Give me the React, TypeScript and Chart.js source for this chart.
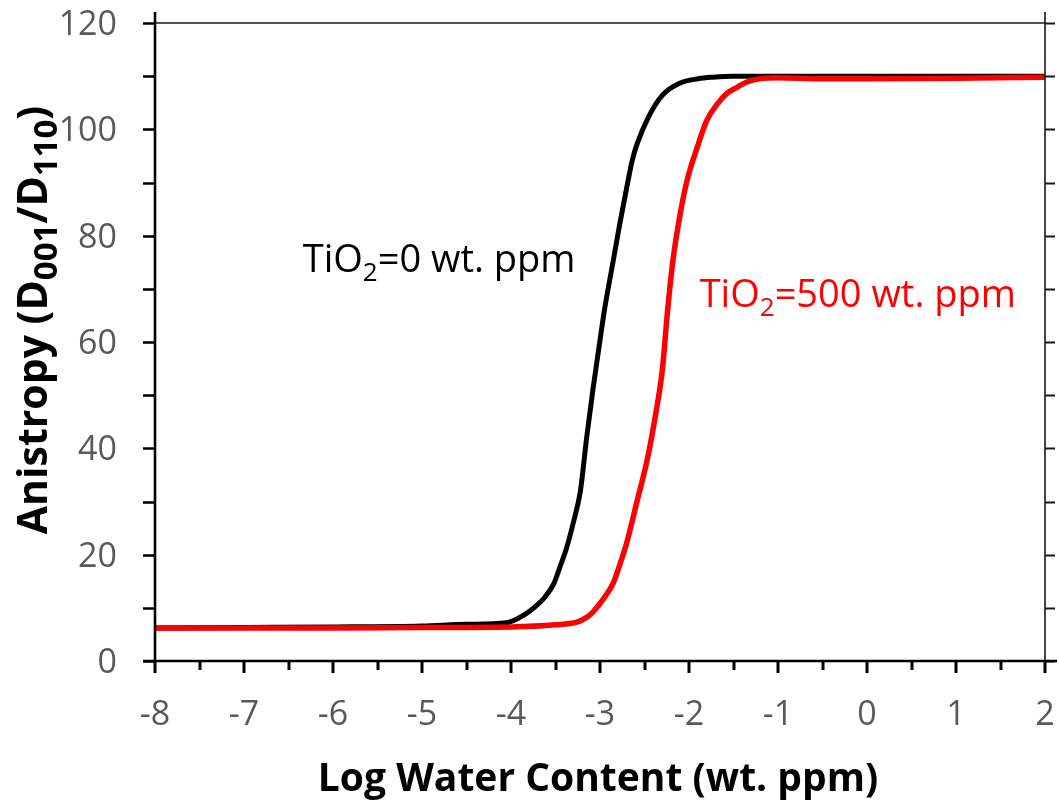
import React, { useEffect, useRef } from 'react';
import { Chart, registerables } from 'chart.js';
Chart.register(...registerables);

// Series: TiO2 = 0 wt. ppm (black)
const blackX = [-8, -7, -6, -5, -4.5, -4.05, -3.85, -3.73, -3.62, -3.52, -3.45, -3.38, -3.30, -3.22, -3.15, -3.08, -3.02, -2.95, -2.85, -2.78, -2.70, -2.64, -2.58, -2.45, -2.30, -2.10, -1.90, -1.73, -1.5, -1, 0, 1, 2];
const blackY = [6.2, 6.3, 6.4, 6.6, 6.9, 7.2, 8.7, 10.2, 12.0, 14.5, 17.7, 21, 26, 32, 42, 51, 58, 66, 75.4, 82, 89, 94, 97.4, 102.5, 106.4, 108.7, 109.5, 109.8, 110, 110, 110, 110, 110];

// Series: TiO2 = 500 wt. ppm (red)
const redX = [-8, -7, -6, -5, -4, -3.5, -3.26, -3.15, -3.08, -2.97, -2.85, -2.78, -2.70, -2.58, -2.47, -2.38, -2.30, -2.24, -2.18, -2.10, -2.02, -1.90, -1.80, -1.68, -1.57, -1.45, -1.35, -1.17, -1, -0.5, 0, 1, 2];
const redY = [6.2, 6.2, 6.2, 6.3, 6.4, 6.8, 7.3, 8.2, 9.2, 11.5, 14.7, 18, 22.2, 30.3, 37.8, 45.9, 54.7, 66, 75.4, 84, 90.5, 97, 101.7, 104.8, 106.8, 108, 108.9, 109.6, 109.7, 109.5, 109.5, 109.6, 109.8];

const xTickValues = [-8, -7, -6, -5, -4, -3, -2, -1, 0, 1, 2];
const yTickValues = [0, 20, 40, 60, 80, 100, 120];

const xTitle = [{ t: 'Log Water Content (wt. ppm)' }];
const yTitle = [{ t: 'Anistropy (D' }, { t: '001', sub: true }, { t: '/D' }, { t: '110', sub: true }, { t: ')' }];

const blackLabel = [{ t: 'TiO' }, { t: '2', sub: true }, { t: '=0 wt. ppm' }];
const redLabel = [{ t: 'TiO' }, { t: '2', sub: true }, { t: '=500 wt. ppm' }];
// label anchor positions (data coords: x, y of left baseline)
const blackLabelAt = [-6.34, 73.2];
const redLabelAt = [-1.88, 66.6];

const FONT = '"Open Sans", "Liberation Sans", sans-serif';

type Part = { t: string; sub?: boolean };

function drawRich(ctx: CanvasRenderingContext2D, parts: Part[], x: number, y: number, size: number, bold: boolean, color: string, align: 'left' | 'center', subScale = 0.68) {
  const fontFor = (p: Part) => `${bold ? 'bold ' : ''}${p.sub ? Math.round(size * subScale) : size}px ${FONT}`;
  let total = 0;
  const widths = parts.map((p) => {
    ctx.font = fontFor(p);
    const w = ctx.measureText(p.t).width;
    total += w;
    return w;
  });
  let cx = align === 'center' ? x - total / 2 : x;
  ctx.fillStyle = color;
  ctx.textBaseline = 'alphabetic';
  ctx.textAlign = 'left';
  parts.forEach((p, i) => {
    ctx.font = fontFor(p);
    ctx.fillText(p.t, cx, p.sub ? y + size * 0.24 : y);
    cx += widths[i];
  });
}

const framePlugin = {
  id: 'frame',
  afterDraw(chart: any) {
    const { ctx, chartArea, scales } = chart;
    const { left, right, top, bottom } = chartArea;
    const xs = scales.x;
    const ys = scales.y;
    ctx.save();
    // top and right frame
    ctx.strokeStyle = '#1a1a1a';
    ctx.lineWidth = 1.6;
    ctx.beginPath();
    ctx.moveTo(left, top);
    ctx.lineTo(right, top);
    ctx.moveTo(right, top - 11);
    ctx.lineTo(right, bottom);
    ctx.stroke();
    // right ticks
    ctx.lineWidth = 2;
    ctx.beginPath();
    for (let v = 0; v <= 120; v += 10) {
      const py = Math.round(ys.getPixelForValue(v)) + 0.5;
      ctx.moveTo(right, py);
      ctx.lineTo(right + 10, py);
    }
    ctx.stroke();
    // left axis
    ctx.strokeStyle = '#000';
    ctx.lineWidth = 2.6;
    ctx.beginPath();
    ctx.moveTo(left, top - 11);
    ctx.lineTo(left, bottom);
    ctx.stroke();
    ctx.beginPath();
    for (let v = 0; v <= 120; v += 10) {
      const py = Math.round(ys.getPixelForValue(v)) + 0.5;
      ctx.moveTo(left - 12, py);
      ctx.lineTo(left, py);
    }
    ctx.stroke();
    // bottom axis
    ctx.beginPath();
    ctx.moveTo(left - 12, bottom);
    ctx.lineTo(right + 12, bottom);
    ctx.stroke();
    ctx.lineWidth = 3;
    ctx.beginPath();
    for (let i = 0; i <= 20; i++) {
      const v = -8 + i * 0.5;
      const px = Math.round(xs.getPixelForValue(v));
      const len = i % 2 === 0 ? 12 : 9;
      ctx.moveTo(px, bottom);
      ctx.lineTo(px, bottom + len);
    }
    ctx.stroke();
    // tick labels
    ctx.fillStyle = '#595959';
    ctx.font = `34px ${FONT}`;
    ctx.textBaseline = 'alphabetic';
    ctx.textAlign = 'right';
    yTickValues.forEach((v) => {
      ctx.fillText(String(v), left - 38, ys.getPixelForValue(v) + 12);
    });
    ctx.textAlign = 'center';
    xTickValues.forEach((v) => {
      ctx.fillText(String(v), xs.getPixelForValue(v), bottom + 64);
    });
    // annotations
    drawRich(ctx, blackLabel, xs.getPixelForValue(blackLabelAt[0]), ys.getPixelForValue(blackLabelAt[1]), 38, false, '#000', 'left');
    drawRich(ctx, redLabel, xs.getPixelForValue(redLabelAt[0]), ys.getPixelForValue(redLabelAt[1]), 38, false, '#ff0000', 'left');
    // axis titles
    drawRich(ctx, xTitle, 598, 791, 39, true, '#000', 'center');
    ctx.translate(47, 320);
    ctx.rotate(-Math.PI / 2);
    drawRich(ctx, yTitle, 0, 0, 41, true, '#000', 'center', 0.8);
    ctx.restore();
  },
};

export default function App() {
  const ref = useRef<HTMLCanvasElement>(null);
  useEffect(() => {
    if (!ref.current) return;
    const chart = new Chart(ref.current, {
      type: 'scatter',
      data: {
        datasets: [
          {
            label: 'TiO2=500 wt. ppm',
            data: redX.map((x, i) => ({ x, y: redY[i] })),
            showLine: true,
            borderColor: '#ff0000',
            borderWidth: 5.5,
            pointRadius: 0,
            cubicInterpolationMode: 'monotone',
            order: 0,
          },
          {
            label: 'TiO2=0 wt. ppm',
            data: blackX.map((x, i) => ({ x, y: blackY[i] })),
            showLine: true,
            borderColor: '#000000',
            borderWidth: 5,
            pointRadius: 0,
            cubicInterpolationMode: 'monotone',
            order: 1,
          },
        ],
      },
      options: {
        animation: false,
        responsive: false,
        devicePixelRatio: 1,
        layout: { padding: { left: 0, top: 23, right: 14, bottom: 0 } },
        plugins: { legend: { display: false }, tooltip: { enabled: false } },
        scales: {
          x: {
            type: 'linear',
            min: -8,
            max: 2,
            grid: { display: false, drawTicks: false },
            border: { display: false },
            afterFit: (s: any) => { s.height = 140; },
            ticks: { display: false },
          },
          y: {
            type: 'linear',
            min: 0,
            max: 120,
            grid: { display: false, drawTicks: false },
            border: { display: false },
            afterFit: (s: any) => { s.width = 155; },
            ticks: { display: false },
          },
        },
      },
      plugins: [framePlugin],
    } as any);
    return () => chart.destroy();
  }, []);
  return (
    <div style={{ position: 'absolute', left: 0, top: 0, width: 1059, height: 801, background: '#fff' }}>
      <canvas ref={ref} width={1059} height={801} />
    </div>
  );
}
